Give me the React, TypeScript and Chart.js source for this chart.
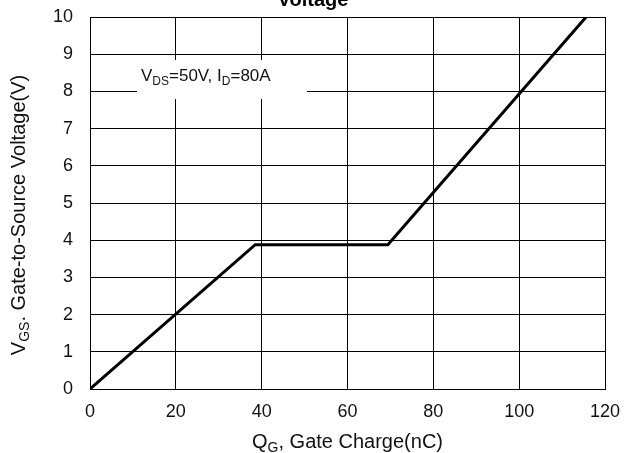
import React, { useEffect, useRef } from "react";
import { Chart, registerables } from "chart.js";

Chart.register(...registerables);

const gateCharge = [0, 38.5, 69.4, 115.6];
const gateVoltage = [0, 3.88, 3.88, 10];
const xTicks = [0, 20, 40, 60, 80, 100, 120];
const yTicks = [0, 1, 2, 3, 4, 5, 6, 7, 8, 9, 10];
const titleText = "Voltage";
const xTitle = [{ t: "Q" }, { t: "G", sub: true }, { t: ", Gate Charge(nC)" }];
const yTitle = [{ t: "V" }, { t: "GS", sub: true }, { t: ". Gate-to-Source Voltage(V)" }];
const noteText = [{ t: "V" }, { t: "DS", sub: true }, { t: "=50V, I" }, { t: "D", sub: true }, { t: "=80A" }];

const FONT = "'Liberation Sans', Arial, sans-serif";

type Seg = { t: string; sub?: boolean };

function segWidth(ctx: CanvasRenderingContext2D, segs: Seg[], size: number) {
  let w = 0;
  for (const s of segs) {
    ctx.font = `${s.sub ? Math.round(size * 0.68) : size}px ${FONT}`;
    w += ctx.measureText(s.t).width;
  }
  return w;
}

function drawSegs(ctx: CanvasRenderingContext2D, segs: Seg[], size: number, x: number, y: number, color: string) {
  ctx.fillStyle = color;
  ctx.textBaseline = "alphabetic";
  ctx.textAlign = "left";
  let cx = x;
  for (const s of segs) {
    const fs = s.sub ? Math.round(size * 0.68) : size;
    ctx.font = `${fs}px ${FONT}`;
    ctx.fillText(s.t, cx, s.sub ? y + size * 0.22 : y);
    cx += ctx.measureText(s.t).width;
  }
}

const textPlugin = {
  id: "texts",
  beforeDatasetsDraw(chart: any) {
    const ctx = chart.ctx as CanvasRenderingContext2D;
    ctx.save();
    ctx.fillStyle = "#fff";
    ctx.fillRect(137, 60, 170, 39);
    drawSegs(ctx, noteText, 17, 141, 81, "#111");
    ctx.restore();
  },
  afterDraw(chart: any) {
    const ctx = chart.ctx as CanvasRenderingContext2D;
    const area = chart.chartArea;
    ctx.save();
    // title (cut off at top)
    ctx.font = `bold 20px ${FONT}`;
    ctx.fillStyle = "#000";
    ctx.textAlign = "center";
    ctx.textBaseline = "alphabetic";
    ctx.fillText(titleText, 313, 6);
    // x title
    const size = 20;
    const cxm = (area.left + area.right) / 2;
    const wx = segWidth(ctx, xTitle, size);
    drawSegs(ctx, xTitle, size, cxm - wx / 2, 448, "#111");
    // y title
    const wy = segWidth(ctx, yTitle, size);
    ctx.translate(25, 215);
    ctx.rotate(-Math.PI / 2);
    drawSegs(ctx, yTitle, size, -wy / 2, 0, "#111");
    ctx.restore();
  },
};

export default function App() {
  const ref = useRef<HTMLCanvasElement>(null);
  useEffect(() => {
    if (!ref.current) return;
    const chart = new Chart(ref.current, {
      type: "scatter",
      data: {
        datasets: [
          {
            data: gateCharge.map((x, i) => ({ x, y: gateVoltage[i] })),
            showLine: true,
            borderColor: "#000",
            borderWidth: 3,
            pointRadius: 0,
            fill: false,
            tension: 0,
          },
        ],
      },
      options: {
        responsive: false,
        animation: false,
        events: [],
        layout: { padding: { top: 17, right: 19, left: 0, bottom: 0 } },
        plugins: { legend: { display: false }, tooltip: { enabled: false }, title: { display: false } },
        scales: {
          x: {
            type: "linear",
            min: 0,
            max: 120,
            afterBuildTicks: (s: any) => {
              s.ticks = xTicks.map((v) => ({ value: v }));
            },
            afterFit: (s: any) => {
              s.height = 64;
              s.paddingLeft = 0;
              s.paddingRight = 0;
            },
            grid: { color: "#000", lineWidth: 1, drawTicks: false },
            border: { color: "#000", width: 1 },
            ticks: { color: "#111", padding: 12, font: { size: 18, family: FONT }, maxRotation: 0 },
          },
          y: {
            type: "linear",
            min: 0,
            max: 10,
            afterBuildTicks: (s: any) => {
              s.ticks = yTicks.map((v) => ({ value: v }));
            },
            afterFit: (s: any) => {
              s.width = 90;
              s.paddingTop = 0;
              s.paddingBottom = 0;
            },
            grid: { color: "#000", lineWidth: 1, drawTicks: false },
            border: { color: "#000", width: 1 },
            ticks: { color: "#111", padding: 17, font: { size: 18, family: FONT } },
          },
        },
      },
      plugins: [textPlugin],
    });
    return () => chart.destroy();
  }, []);
  return (
    <div style={{ position: "absolute", left: 0, top: 0, width: 624, height: 453, background: "#fff" }}>
      <canvas ref={ref} width={624} height={453} style={{ width: 624, height: 453 }} />
    </div>
  );
}
